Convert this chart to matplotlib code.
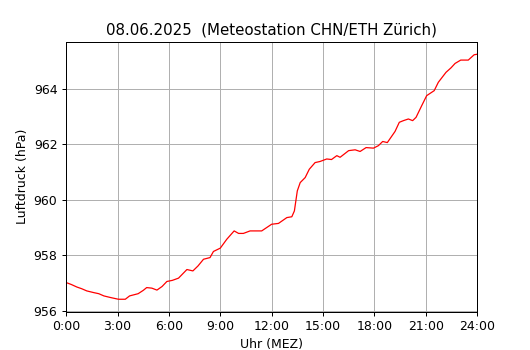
import matplotlib
matplotlib.use("Agg")
import matplotlib.pyplot as plt

# Stunden seit Mitternacht und Luftdruck (hPa)
stunden = [0.0, 0.3, 0.62, 0.9, 1.2, 1.6, 1.9, 2.2, 2.6, 3.05, 3.45, 3.7, 4.2, 4.5,
           4.7, 5.0, 5.3, 5.6, 5.88, 6.2, 6.56, 7.05, 7.4, 7.7, 8.02, 8.4, 8.6, 9.0,
           9.38, 9.81, 10.07, 10.35, 10.74, 11.42, 12.0, 12.4, 12.89, 13.18, 13.33,
           13.5, 13.67, 13.96, 14.2, 14.54, 14.83, 15.22, 15.5, 15.81, 16.0, 16.5,
           16.88, 17.17, 17.52, 17.95, 18.24, 18.49, 18.76, 19.21, 19.46, 19.7,
           19.99, 20.24, 20.44, 20.77, 21.06, 21.5, 21.74, 22.19, 22.48, 22.72,
           23.05, 23.49, 23.83, 24.0]
druck = [957.02, 956.95, 956.86, 956.80, 956.72, 956.66, 956.62, 956.54, 956.48, 956.42,
         956.42, 956.54, 956.62, 956.74, 956.84, 956.82, 956.75, 956.88, 957.06, 957.10,
         957.18, 957.49, 957.44, 957.62, 957.86, 957.92, 958.14, 958.26,
         958.58, 958.88, 958.79, 958.79, 958.88, 958.88, 959.12, 959.15, 959.36, 959.39,
         959.6, 960.32, 960.62, 960.80, 961.10, 961.34, 961.38, 961.47, 961.45, 961.59,
         961.53, 961.77, 961.80, 961.74, 961.88, 961.86, 961.95, 962.10, 962.06, 962.46,
         962.79, 962.85, 962.91, 962.85, 962.97, 963.39, 963.75, 963.93, 964.23, 964.59,
         964.75, 964.91, 965.03, 965.03, 965.22, 965.24]

tick_pos = [0, 3, 6, 9, 12, 15, 18, 21, 24]
tick_lab = ["0:00", "3:00", "6:00", "9:00", "12:00", "15:00", "18:00", "21:00", "24:00"]

fig, ax = plt.subplots(figsize=(530 / 90, 350 / 90), dpi=90)
ax.plot(stunden, druck, color="red", linewidth=1)
ax.set_xlim(0, 24)
ax.set_xticks(tick_pos)
ax.set_xticklabels(tick_lab)
ax.grid(True)
ax.set_title("08.06.2025  (Meteostation CHN/ETH Zürich)")
ax.set_xlabel("Uhr (MEZ)")
ax.set_ylabel("Luftdruck (hPa)")
fig.savefig("out.png")
